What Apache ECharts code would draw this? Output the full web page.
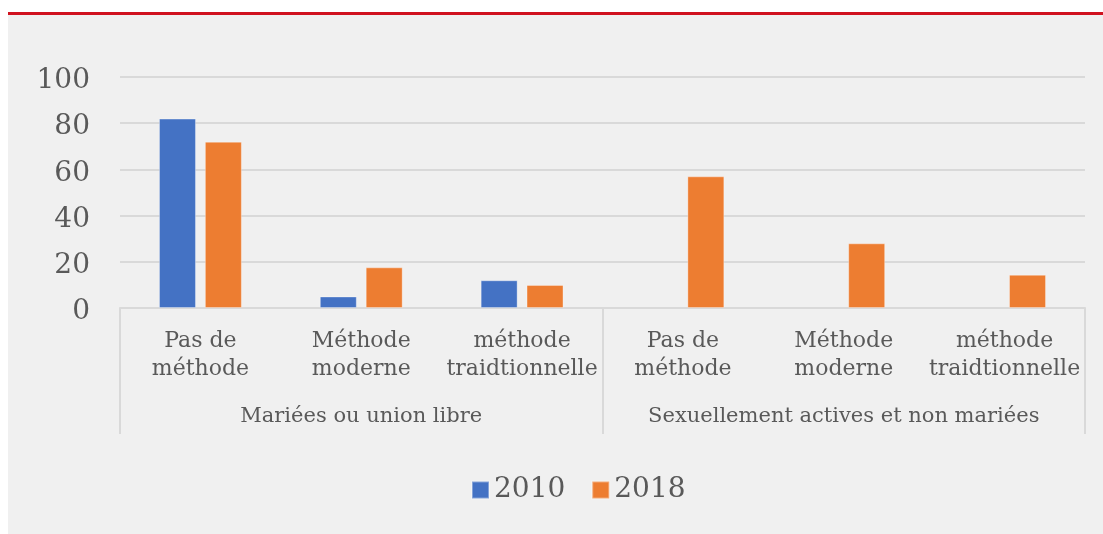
<!DOCTYPE html>
<html>
<head>
<meta charset="utf-8">
<script src="https://cdn.jsdelivr.net/npm/echarts@6/dist/echarts.min.js"></script>
<style>
  html, body { margin: 0; padding: 0; background: #ffffff; }
  #wrap { position: relative; width: 1103px; height: 534px; overflow: hidden; }
  #panel { position: absolute; left: 8px; top: 15px; right: 0; bottom: 0; background: #f0f0f0; }
  #rule { position: absolute; left: 8px; top: 12px; right: 0; height: 3px; background: #d0121f; }
  #chart { position: absolute; left: 0; top: 0; width: 1103px; height: 534px; }
</style>
</head>
<body>
<div id="wrap">
  <div id="panel"></div>
  <div id="rule"></div>
  <div id="chart"></div>
</div>
<script>
// Contraception use by status (percent)
const methods = [
  'Pas de\nméthode', 'Méthode\nmoderne', 'méthode\ntraidtionnelle',
  'Pas de\nméthode', 'Méthode\nmoderne', 'méthode\ntraidtionnelle'
];
const groups = ['Mariées ou union libre', 'Sexuellement actives et non mariées'];
const seriesNames = ['2010', '2018'];
const values2010 = [82, 5, 12, '-', '-', '-'];
const values2018 = [72, 17.6, 10, 57, 28, 14.4];
const yTicks = { min: 0, max: 100, interval: 20 };

const textColor = '#595959';
const fontFamily = '"DejaVu Serif", "Liberation Serif", serif';

const chart = echarts.init(document.getElementById('chart'), null, { renderer: 'canvas' });

chart.setOption({
  backgroundColor: 'transparent',
  animation: false,
  textStyle: { fontFamily: fontFamily, color: textColor },
  grid: { left: 120, right: 18, top: 77, bottom: 226, containLabel: false },
  legend: {
    data: seriesNames,
    top: 471,
    left: 466,
    itemWidth: 17,
    itemHeight: 17,
    itemGap: 26,
    icon: 'rect',
    textStyle: { fontFamily: fontFamily, fontSize: 28, color: textColor, padding: [3, 0, 0, 0] }
  },
  xAxis: [
    {
      type: 'category',
      data: methods,
      position: 'bottom',
      axisLine: { show: true, lineStyle: { color: '#d9d9d9', width: 2 } },
      axisTick: { show: false },
      axisLabel: {
        interval: 0,
        margin: 19,
        fontSize: 22,
        lineHeight: 28,
        color: textColor,
        fontFamily: fontFamily
      }
    },
    {
      type: 'category',
      data: groups,
      position: 'bottom',
      gridIndex: 0,
      axisLine: { show: false },
      axisTick: {
        show: true,
        interval: 0,
        length: 126,
        lineStyle: { color: '#d9d9d9', width: 2 }
      },
      axisLabel: {
        interval: 0,
        margin: 98,
        fontSize: 21,
        color: textColor,
        fontFamily: fontFamily
      }
    }
  ],
  yAxis: {
    type: 'value',
    min: yTicks.min,
    max: yTicks.max,
    interval: yTicks.interval,
    axisLine: { show: false },
    axisTick: { show: false },
    splitLine: { lineStyle: { color: '#d9d9d9', width: 2 } },
    axisLabel: {
      margin: 30,
      color: textColor,
      formatter: '{v|{value}}',
      rich: {
        v: { fontSize: 28, fontFamily: fontFamily, color: textColor, padding: [8, 0, 0, 0] }
      }
    }
  },
  series: [
    {
      name: seriesNames[0],
      type: 'bar',
      data: values2010,
      barWidth: 37,
      barGap: '24%',
      itemStyle: { color: '#4472c4', borderColor: 'rgba(255,255,255,0.35)', borderWidth: 1 }
    },
    {
      name: seriesNames[1],
      type: 'bar',
      data: values2018,
      barWidth: 37,
      barGap: '24%',
      itemStyle: { color: '#ed7d31', borderColor: 'rgba(255,255,255,0.35)', borderWidth: 1 }
    }
  ]
});
</script>
</body>
</html>
